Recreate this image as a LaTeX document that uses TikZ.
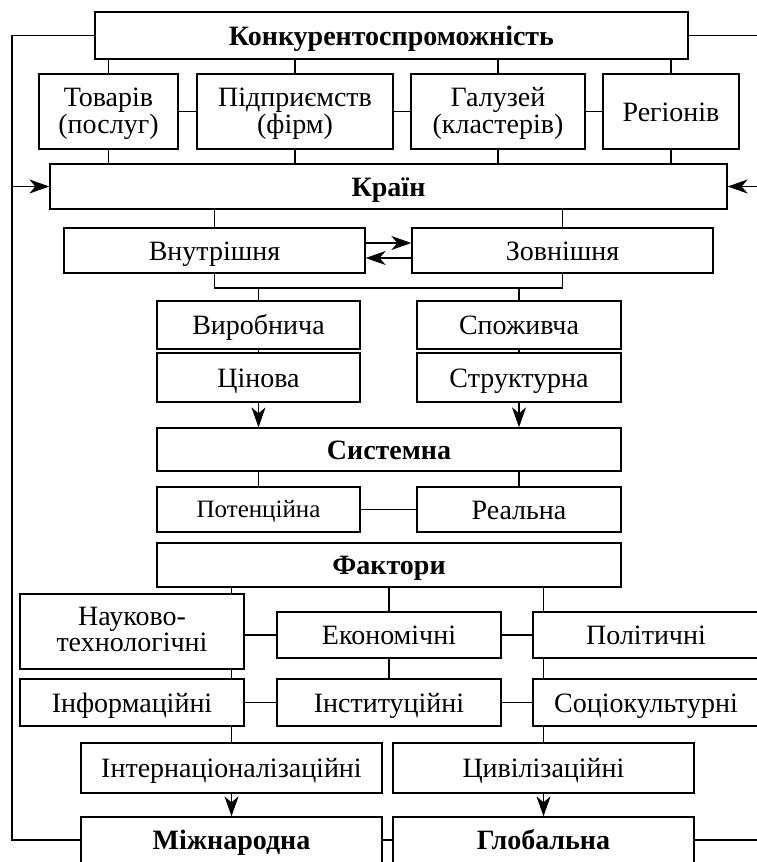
\documentclass[tikz,border=0pt]{standalone}
\usepackage{fontspec}
\setmainfont{Liberation Serif}
\usetikzlibrary{arrows.meta}

\begin{document}
\begin{tikzpicture}[x=1pt,y=-1pt,
    box/.style={draw, line width=1.3pt, inner sep=0pt, align=center,
      text height=19pt, text depth=0pt, font=\fontsize{28}{27}\selectfont},
    bbox/.style={box, font=\fontsize{28}{27}\selectfont\bfseries},
    twoline/.style={text height=46pt, text depth=3pt},
    ln/.style={line width=1.3pt},
    arr/.style={ln, -{Stealth[length=20pt,width=14pt,inset=6pt]}}]
    \useasboundingbox (0,0) rectangle (756,862);
    % Top levels
    \node[bbox, minimum width=593, minimum height=47] (kon) at (391.5,35.5) {Конкурентоспроможність};
    \node[box, twoline, minimum width=139, minimum height=75] (tov) at (108.5,111.5) {Товарів\\(послуг)};
    \node[box, twoline, minimum width=196, minimum height=75] (pidp) at (295,111.5) {Підприємств\\(фірм)};
    \node[box, twoline, minimum width=174, minimum height=75] (gal) at (498,111.5) {Галузей\\(кластерів)};
    \node[box, minimum width=136, minimum height=75] (reg) at (671,111.5) {Регіонів};
    \node[bbox, minimum width=677, minimum height=45] (kr) at (388.5,186.5) {Країн};
    % Kinds
    \node[box, minimum width=301, minimum height=45] (vn) at (214.5,250.5) {Внутрішня};
    \node[box, minimum width=301, minimum height=45] (zov) at (562.5,250.5) {Зовнішня};
    \node[box, minimum width=203, minimum height=48] (vyr) at (258.5,325) {Виробнича};
    \node[box, minimum width=203, minimum height=49] (cin) at (258.5,377.5) {Цінова};
    \node[box, minimum width=204, minimum height=48] (spo) at (519,325) {Споживча};
    \node[box, minimum width=204, minimum height=49] (str) at (519,377.5) {Структурна};
    \node[bbox, minimum width=464, minimum height=43] (sys) at (389,449.5) {Системна};
    \node[box, minimum width=203, minimum height=45, text height=16.5pt,
      font=\fontsize{25}{26}\selectfont] (pot) at (258.5,509.5) {Потенційна};
    \node[box, minimum width=204, minimum height=45] (real) at (519,509.5) {Реальна};
    % Factors
    \node[bbox, minimum width=464, minimum height=44] (fak) at (389,565) {Фактори};
    \node[box, minimum width=224, minimum height=75, text height=40pt,
      font=\fontsize{28}{20}\selectfont] (nauk) at (132,631.5) {Науково-\\технологічні};
    \node[box, minimum width=224, minimum height=46] (ekon) at (389,635) {Економічні};
    \node[box, minimum width=226, minimum height=46] (pol) at (646,635) {Політичні};
    \node[box, minimum width=224, minimum height=47] (inf) at (132,702.5) {Інформаційні};
    \node[box, minimum width=224, minimum height=47] (inst) at (389,702.5) {Інституційні};
    \node[box, minimum width=226, minimum height=47] (soc) at (646,702.5) {Соціокультурні};
    \node[box, minimum width=301, minimum height=50] (intn) at (231.5,768) {Інтернаціоналізаційні};
    \node[box, minimum width=301, minimum height=50] (civ) at (543.5,768) {Цивілізаційні};
    \node[bbox, minimum width=301, minimum height=46] (mizh) at (231.5,840) {Міжнародна};
    \node[bbox, minimum width=301, minimum height=46] (glob) at (543.5,840) {Глобальна};
    \coordinate (jn) at (389,288);
    \coordinate (lft) at (12,0);
    \coordinate (rgt) at (759,0);
    % Vertical links
    \foreach \a/\b in {kon/tov, kon/pidp, kon/gal, kon/reg, kr/vn, kr/zov,
        vyr/cin, spo/str, sys/pot, sys/real}
        \draw[ln] (\b.north) -- (\b.north |- \a.south);
    \foreach \a/\b in {tov/kr, pidp/kr, gal/kr, reg/kr}
        \draw[ln] (\a.south) -- (\a.south |- \b.north);
    % Horizontal links
    \foreach \a/\b in {tov/pidp, pidp/gal, gal/reg, pot/real, nauk/ekon,
        ekon/pol, inf/inst, inst/soc, mizh/glob}
        \draw[ln] (\a.east |- \b.west) -- (\b.west);
    \draw[ln] (vn.south) |- (jn) -| (zov.south);
    \draw[ln] (vyr.north) -- (vyr.north |- jn);
    \draw[ln] (spo.north) -- (spo.north |- jn);
    \draw[arr] ([yshift=7.5pt]vn.east) -- ([yshift=7.5pt]zov.west);
    \draw[arr] ([yshift=-7.5pt]zov.west) -- ([yshift=-7.5pt]vn.east);
    \foreach \a/\b in {cin/sys, str/sys, intn/mizh, civ/glob}
        \draw[arr] (\a.south) -- (\a.south |- \b.north);
    % Factor spines
    \foreach \a/\b in {fak/nauk, nauk/inf, inf/intn}
        \draw[ln] (intn.north |- \a.south) -- (intn.north |- \b.north);
    \foreach \a/\b in {fak/ekon, ekon/inst}
        \draw[ln] (ekon.north |- \a.south) -- (ekon.north |- \b.north);
    \foreach \a/\b in {fak/pol, pol/soc, soc/civ}
        \draw[ln] (civ.north |- \a.south) -- (civ.north |- \b.north);
    % Outer loops
    \draw[ln] (kon.west) -| (lft |- mizh.west) -- (mizh.west);
    \draw[arr] (lft |- kr.west) -- (kr.west);
    \draw[ln] (kon.east) -| (rgt |- glob.east) -- (glob.east);
    \draw[arr] (rgt |- kr.east) -- (kr.east);
\end{tikzpicture}
\end{document}
